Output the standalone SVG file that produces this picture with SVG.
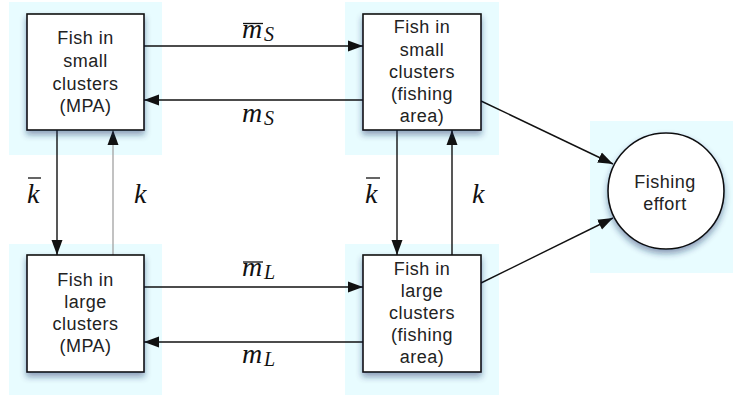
<svg xmlns="http://www.w3.org/2000/svg" width="733" height="397" viewBox="0 0 733 397">
<style>
.bg{fill:#e8fcff}
.box{fill:#fff;stroke:#111;stroke-width:1.6;filter:url(#sh)}
.lbl{font-family:"Liberation Sans",Arial,sans-serif;font-size:18px;letter-spacing:0.5px;fill:#222;text-anchor:middle}
.m{font-family:"Liberation Serif","Times New Roman",serif;font-style:italic;font-size:28px;fill:#111}
.sub{font-family:"Liberation Serif","Times New Roman",serif;font-style:italic;font-size:20px;fill:#111}
.ol{stroke:#111;stroke-width:1.3}
.c{stroke:#111;stroke-width:1.4;fill:none;marker-end:url(#ah)}
.cg{stroke:#a8a8a8;stroke-width:1.4;fill:none;marker-end:url(#ah)}
</style>
<defs>
<filter id="sh" x="-20%" y="-20%" width="140%" height="150%">
<feDropShadow dx="0" dy="4" stdDeviation="3" flood-color="#1a2a60" flood-opacity="0.45"/>
</filter>
<marker id="ah" markerUnits="userSpaceOnUse" markerWidth="15" markerHeight="12" refX="15" refY="6" orient="auto">
<path d="M0,0.5 L15,6 L0,11.5 Z" fill="#111"/>
</marker>
</defs>
<rect class="bg" x="9" y="2" width="153" height="153"/>
<rect class="bg" x="345" y="2" width="154" height="153"/>
<rect class="bg" x="9" y="244" width="153" height="151"/>
<rect class="bg" x="345" y="244" width="154" height="151"/>
<rect class="bg" x="590" y="121" width="143" height="152"/>
<g id="connectors">
<line class="c" x1="144" y1="46" x2="363" y2="46"/>
<line class="c" x1="363" y1="100" x2="144" y2="100"/>
<line class="c" x1="144" y1="287" x2="363" y2="287"/>
<line class="c" x1="363" y1="342" x2="144" y2="342"/>
<line class="c" x1="57" y1="130" x2="57" y2="255"/>
<line class="cg" x1="113" y1="255" x2="113" y2="130"/>
<line class="c" x1="397" y1="130" x2="397" y2="255"/>
<line class="c" x1="452" y1="255" x2="452" y2="130"/>
<line class="c" x1="481" y1="101" x2="613" y2="164"/>
<line class="c" x1="481" y1="283" x2="613" y2="218"/>
</g>
<g id="labels">
<line class="ol" x1="243" y1="23.5" x2="263" y2="23.5"/>
<text class="m" x="242" y="38">m</text><text class="sub" x="264" y="41">S</text>
<text class="m" x="242" y="122">m</text><text class="sub" x="264" y="125">S</text>
<line class="ol" x1="243" y1="262" x2="263" y2="262"/>
<text class="m" x="242" y="276">m</text><text class="sub" x="264" y="279">L</text>
<text class="m" x="242" y="363">m</text><text class="sub" x="264" y="366">L</text>
<line class="ol" x1="28" y1="178" x2="41" y2="178"/>
<text class="m" x="27" y="203">k</text>
<text class="m" x="134" y="203">k</text>
<line class="ol" x1="366" y1="178" x2="380" y2="178"/>
<text class="m" x="365" y="203">k</text>
<text class="m" x="472" y="203">k</text>
</g>
<g id="small-mpa">
<rect class="box" x="27" y="14" width="117" height="116"/>
<text class="lbl" x="85.5" y="44">Fish in</text>
<text class="lbl" x="85.5" y="67">small</text>
<text class="lbl" x="85.5" y="90">clusters</text>
<text class="lbl" x="85.5" y="112">(MPA)</text>
</g>
<g id="small-fishing">
<rect class="box" x="363" y="14" width="118" height="116"/>
<text class="lbl" x="422" y="33">Fish in</text>
<text class="lbl" x="422" y="56">small</text>
<text class="lbl" x="422" y="78">clusters</text>
<text class="lbl" x="422" y="100">(fishing</text>
<text class="lbl" x="422" y="122">area)</text>
</g>
<g id="large-mpa">
<rect class="box" x="27" y="255" width="117" height="117"/>
<text class="lbl" x="85.5" y="286">Fish in</text>
<text class="lbl" x="85.5" y="308">large</text>
<text class="lbl" x="85.5" y="330">clusters</text>
<text class="lbl" x="85.5" y="352">(MPA)</text>
</g>
<g id="large-fishing">
<rect class="box" x="363" y="255" width="118" height="117"/>
<text class="lbl" x="422" y="275">Fish in</text>
<text class="lbl" x="422" y="297">large</text>
<text class="lbl" x="422" y="319">clusters</text>
<text class="lbl" x="422" y="341">(fishing</text>
<text class="lbl" x="422" y="363">area)</text>
</g>
<g id="effort">
<circle class="box" cx="666" cy="191" r="58"/>
<text class="lbl" x="665" y="188">Fishing</text>
<text class="lbl" x="665" y="210">effort</text>
</g>
</svg>
